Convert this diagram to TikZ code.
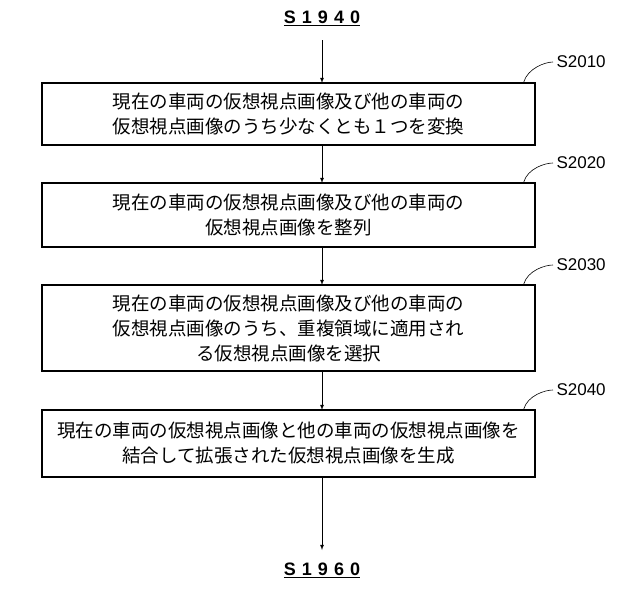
\documentclass[tikz,border=0pt]{standalone}
\usepackage{fontspec}
\newfontfamily\cjk{Noto Sans CJK JP}
\newfontfamily\lab{Liberation Sans}
\begin{document}
\begin{tikzpicture}[x=1pt,y=-1pt,
  stepbox/.style={draw,line width=1.2pt,minimum width=493pt,align=center,font=\cjk\fontsize{18.5}{25}\selectfont,inner sep=0pt},
  steplabel/.style={anchor=west,font=\lab\fontsize{17}{17}\selectfont},
  endlabel/.style={font=\lab\bfseries\fontsize{18}{18}\selectfont},
  flow/.style={-latex,line width=0.8pt}]
\useasboundingbox (0,0) rectangle (640,595);
% start and end
\node[endlabel] (start) at (322,18) {\underline{S\,\,1\,\,9\,\,4\,\,0}};
\node[endlabel] (stop) at (322,570) {\underline{S\,\,1\,\,9\,\,6\,\,0}};
% steps
\node[stepbox,minimum height=62pt] (s1) at (288.5,114) {現在の車両の仮想視点画像及び他の車両の\\仮想視点画像のうち少なくとも１つを変換};
\node[stepbox,minimum height=64pt] (s2) at (288.5,215) {現在の車両の仮想視点画像及び他の車両の\\仮想視点画像を整列};
\node[stepbox,minimum height=86pt] (s3) at (288.5,328) {現在の車両の仮想視点画像及び他の車両の\\仮想視点画像のうち、重複領域に適用され\\る仮想視点画像を選択};
\node[stepbox,minimum height=67pt] (s4) at (288.5,443.5) {現在の車両の仮想視点画像と他の車両の仮想視点画像を\\結合して拡張された仮想視点画像を生成};
% step labels
\node[steplabel] (l1) at (553,62) {S2010};
\node[steplabel] (l2) at (553,163) {S2020};
\node[steplabel] (l3) at (553,265) {S2030};
\node[steplabel] (l4) at (553,390) {S2040};
\foreach \i in {1,2,3,4}
  \draw[line width=0.6pt] ([xshift=-12pt]s\i.north east) .. controls +(4,-14) and +(-8,0) .. (l\i.west);
% arrows
\draw[flow] (322,40) -- (322,83);
\draw[flow] (322,145) -- (322,183);
\draw[flow] (322,247) -- (322,285);
\draw[flow] (322,371) -- (322,410);
\draw[flow] (322,477) -- (322,550);
\end{tikzpicture}
\end{document}
